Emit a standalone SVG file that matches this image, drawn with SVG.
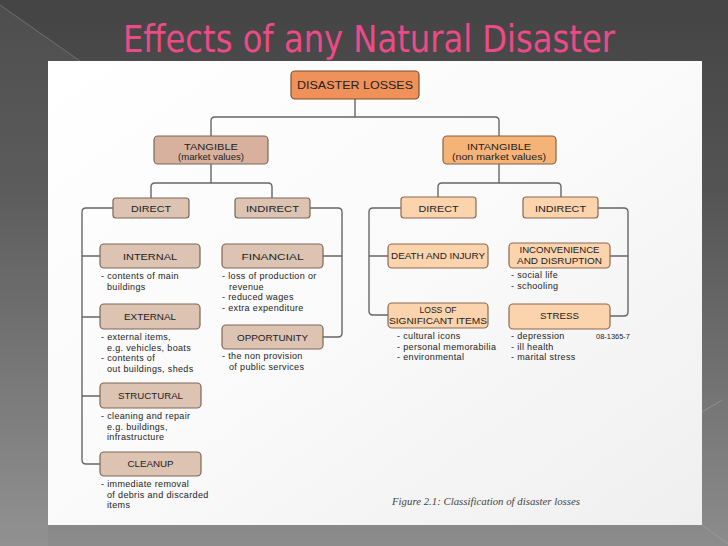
<svg xmlns="http://www.w3.org/2000/svg" width="728" height="546" viewBox="0 0 728 546">
<defs>
<linearGradient id="bg" x1="0" y1="0" x2="0" y2="1">
<stop offset="0" stop-color="#444444"/>
<stop offset="0.35" stop-color="#545454"/>
<stop offset="1" stop-color="#8c8c8c"/>
</linearGradient>
<linearGradient id="panel" x1="0" y1="0" x2="1" y2="1">
<stop offset="0" stop-color="#ffffff"/>
<stop offset="0.5" stop-color="#fafafa"/>
<stop offset="1" stop-color="#efefef"/>
</linearGradient>
<style>
.title{font-family:"Liberation Sans Narrow","DejaVu Sans Condensed","Liberation Sans",sans-serif;font-size:37px;fill:#ec4a88}
.box{stroke:#7e6656;stroke-width:1.2}
.root{fill:#f0915a;stroke:#7a5030}
.tan{fill:#d7b19d}
.tanc{fill:#dcc3b2}
.intan{fill:#f6b378;stroke:#8a6040}
.intc{fill:#fbd3ad;stroke:#8a6a50}
.lbl{font-family:"Liberation Sans",Arial,sans-serif;font-size:9.5px;fill:#222;text-anchor:middle}
.big{font-size:11px}
.desc{font-family:"Liberation Sans",Arial,sans-serif;font-size:9px;letter-spacing:0.35px;fill:#222}
.conn{fill:none;stroke:#666666;stroke-width:1.4}
.cap{font-family:"Liberation Serif","Times New Roman",serif;font-style:italic;font-size:10.5px;fill:#444}
</style>
</defs>
<rect x="0" y="0" width="728" height="546" fill="url(#bg)"/>
<polygon points="0,5 80,61 48,61 48,546 0,546" fill="#ffffff" opacity="0.05"/>
<line x1="0" y1="5" x2="80" y2="61" stroke="#888888" stroke-width="1" opacity="0.6"/>
<line x1="702" y1="525" x2="728" y2="544" stroke="#aaaaaa" stroke-width="1" opacity="0.5"/>
<line x1="702" y1="412" x2="722" y2="400" stroke="#aaaaaa" stroke-width="1" opacity="0.5"/>
<rect x="48" y="61" width="654" height="464" fill="url(#panel)"/>
<text class="title" x="123" y="52" textLength="492" lengthAdjust="spacingAndGlyphs">Effects of any Natural Disaster</text>

<g id="connectors">
<path class="conn" d="M355,99 V117 M211,136 V121 Q211,117 215,117 H495 Q499,117 499,121 V136"/>
<path class="conn" d="M211,164 V183 M151,198 V187 Q151,183 155,183 H268 Q272,183 272,187 V198"/>
<path class="conn" d="M499,164 V183 M438,197 V187 Q438,183 442,183 H557 Q561,183 561,187 V197"/>
<path class="conn" d="M113,208 H86 Q82,208 82,212 V460 Q82,464 86,464 H100 M82,256 H100 M82,317 H100 M82,396 H100"/>
<path class="conn" d="M310,208 H338 Q342,208 342,212 V333 Q342,337 338,337 H323 M342,256 H323"/>
<path class="conn" d="M401,208 H373 Q369,208 369,212 V311 Q369,315 373,315 H388 M369,256 H388"/>
<path class="conn" d="M598,208 H624 Q628,208 628,212 V312 Q628,316 624,316 H610 M628,256 H610"/>
</g>

<g id="disaster-losses">
<rect class="box root" x="291" y="71" width="128" height="28" rx="4"/>
<text class="lbl big" x="355" y="89" textLength="116" lengthAdjust="spacingAndGlyphs">DISASTER LOSSES</text>
</g>
<g id="tangible">
<rect class="box tan" x="154" y="136" width="114" height="28" rx="4"/>
<text class="lbl" x="211" y="150" textLength="54" lengthAdjust="spacingAndGlyphs">TANGIBLE</text>
<text class="lbl" x="211" y="160" textLength="66" lengthAdjust="spacingAndGlyphs">(market values)</text>
</g>
<g id="intangible">
<rect class="box intan" x="443" y="136" width="113" height="28" rx="4"/>
<text class="lbl" x="499" y="150" textLength="64" lengthAdjust="spacingAndGlyphs">INTANGIBLE</text>
<text class="lbl" x="499" y="160" textLength="94" lengthAdjust="spacingAndGlyphs">(non market values)</text>
</g>

<g id="t-direct">
<rect class="box tanc" x="113" y="198" width="76" height="20" rx="3"/>
<text class="lbl" x="151" y="212" textLength="40" lengthAdjust="spacingAndGlyphs">DIRECT</text>
</g>
<g id="t-indirect">
<rect class="box tanc" x="235" y="198" width="75" height="20" rx="3"/>
<text class="lbl" x="272.5" y="212" textLength="53" lengthAdjust="spacingAndGlyphs">INDIRECT</text>
</g>

<g id="internal">
<rect class="box tanc" x="100" y="244" width="100" height="24" rx="4"/>
<text class="lbl" x="150" y="260" textLength="54" lengthAdjust="spacingAndGlyphs">INTERNAL</text>
<text class="desc" x="101" y="279">- contents of main</text>
<text class="desc" x="107" y="290">buildings</text>
</g>
<g id="external">
<rect class="box tanc" x="100" y="304" width="100" height="25" rx="4"/>
<text class="lbl" x="150" y="320" textLength="52" lengthAdjust="spacingAndGlyphs">EXTERNAL</text>
<text class="desc" x="101" y="340">- external items,</text>
<text class="desc" x="107" y="350.5">e.g. vehicles, boats</text>
<text class="desc" x="101" y="361">- contents of</text>
<text class="desc" x="107" y="371.5">out buildings, sheds</text>
</g>
<g id="structural">
<rect class="box tanc" x="100" y="383" width="101" height="25" rx="4"/>
<text class="lbl" x="150.5" y="399" textLength="65" lengthAdjust="spacingAndGlyphs">STRUCTURAL</text>
<text class="desc" x="101" y="419">- cleaning and repair</text>
<text class="desc" x="107" y="429.5">e.g. buildings,</text>
<text class="desc" x="107" y="440">infrastructure</text>
</g>
<g id="cleanup">
<rect class="box tanc" x="100" y="452" width="101" height="24" rx="4"/>
<text class="lbl" x="150.5" y="467" textLength="46" lengthAdjust="spacingAndGlyphs">CLEANUP</text>
<text class="desc" x="101" y="487">- immediate removal</text>
<text class="desc" x="107" y="497.5">of debris and discarded</text>
<text class="desc" x="107" y="508">items</text>
</g>

<g id="financial">
<rect class="box tanc" x="222" y="244" width="101" height="24" rx="4"/>
<text class="lbl" x="272.5" y="260" textLength="62" lengthAdjust="spacingAndGlyphs">FINANCIAL</text>
<text class="desc" x="222" y="279">- loss of production or</text>
<text class="desc" x="229" y="289.5">revenue</text>
<text class="desc" x="222" y="300">- reduced wages</text>
<text class="desc" x="222" y="310.5">- extra expenditure</text>
</g>
<g id="opportunity">
<rect class="box tanc" x="222" y="325" width="101" height="24" rx="4"/>
<text class="lbl" x="272.5" y="341" textLength="71" lengthAdjust="spacingAndGlyphs">OPPORTUNITY</text>
<text class="desc" x="222" y="359">- the non provision</text>
<text class="desc" x="229" y="369.5">of public services</text>
</g>

<g id="i-direct">
<rect class="box intc" x="401" y="197" width="75" height="21" rx="3"/>
<text class="lbl" x="438.5" y="212" textLength="40" lengthAdjust="spacingAndGlyphs">DIRECT</text>
</g>
<g id="i-indirect">
<rect class="box intc" x="523" y="197" width="75" height="21" rx="3"/>
<text class="lbl" x="560.5" y="212" textLength="51" lengthAdjust="spacingAndGlyphs">INDIRECT</text>
</g>

<g id="death-injury">
<rect class="box intc" x="388" y="244" width="100" height="24" rx="4"/>
<text class="lbl" x="438" y="259" textLength="94" lengthAdjust="spacingAndGlyphs">DEATH AND INJURY</text>
</g>
<g id="loss-items">
<rect class="box intc" x="388" y="303" width="100" height="25" rx="4"/>
<text class="lbl" x="438" y="313" textLength="37" lengthAdjust="spacingAndGlyphs">LOSS OF</text>
<text class="lbl" x="438" y="324" textLength="98" lengthAdjust="spacingAndGlyphs">SIGNIFICANT ITEMS</text>
<text class="desc" x="397" y="339">- cultural icons</text>
<text class="desc" x="397" y="349.5">- personal memorabilia</text>
<text class="desc" x="397" y="360">- environmental</text>
</g>
<g id="inconvenience">
<rect class="box intc" x="509" y="243" width="101" height="25" rx="4"/>
<text class="lbl" x="559.5" y="253" textLength="80" lengthAdjust="spacingAndGlyphs">INCONVENIENCE</text>
<text class="lbl" x="559.5" y="264" textLength="85" lengthAdjust="spacingAndGlyphs">AND DISRUPTION</text>
<text class="desc" x="511" y="278">- social life</text>
<text class="desc" x="511" y="288.5">- schooling</text>
</g>
<g id="stress">
<rect class="box intc" x="509" y="304" width="101" height="25" rx="4"/>
<text class="lbl" x="559.5" y="319" textLength="39" lengthAdjust="spacingAndGlyphs">STRESS</text>
<text class="desc" x="511" y="339">- depression</text>
<text class="desc" x="511" y="349.5">- ill health</text>
<text class="desc" x="511" y="360">- marital stress</text>
</g>
<text class="desc" x="596" y="339" style="font-size:6.5px;letter-spacing:0" textLength="34" lengthAdjust="spacingAndGlyphs">08-1365-7</text>

<text class="cap" x="392" y="505" textLength="188" lengthAdjust="spacingAndGlyphs">Figure 2.1: Classification of disaster losses</text>
</svg>
